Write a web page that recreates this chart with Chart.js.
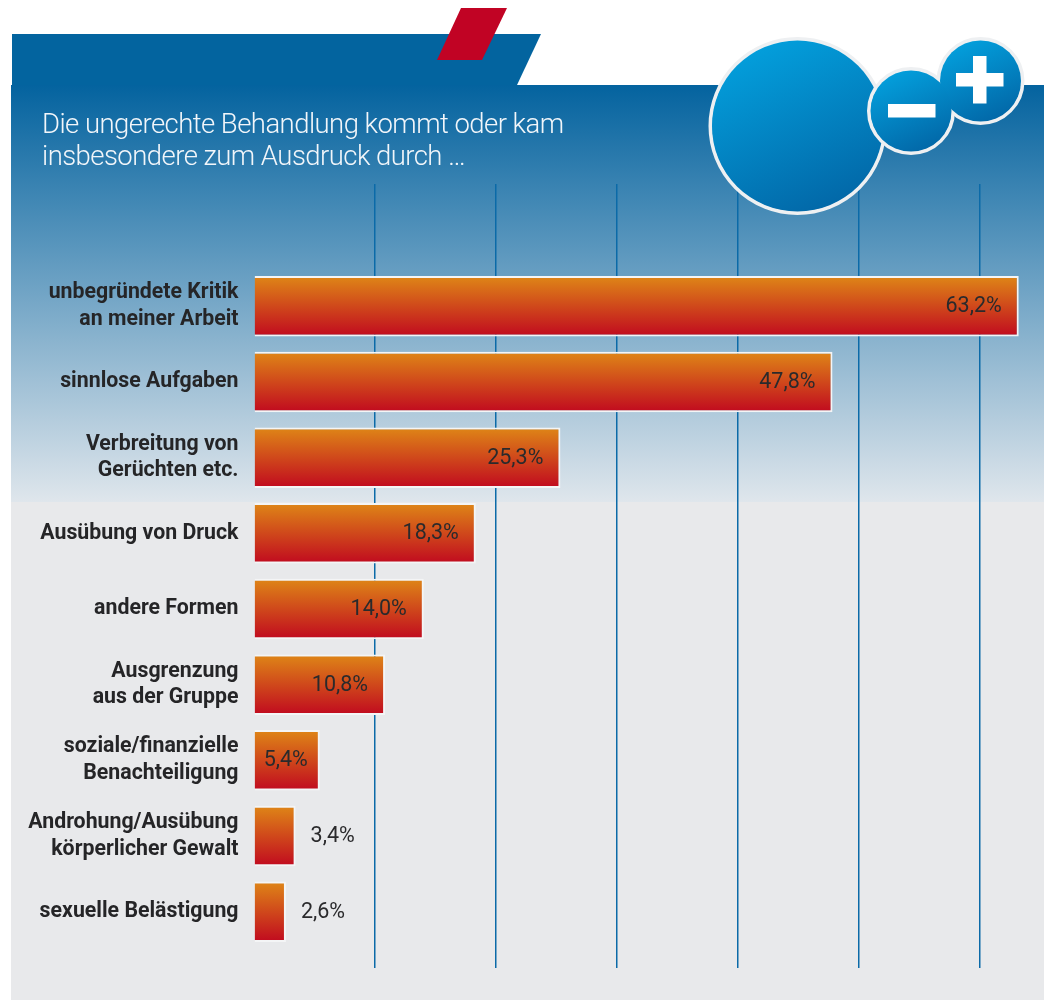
<!DOCTYPE html>
<html lang="de">
<head>
<meta charset="utf-8">
<title>Ungerechte Behandlung</title>
<script src="https://cdn.jsdelivr.net/npm/chart.js@4"></script>
<style>
  html, body { margin: 0; padding: 0; background: #fff; }
  #wrap { position: relative; width: 1044px; height: 1000px; }
</style>
</head>
<body>
<div id="wrap"><canvas id="myChart" width="1044" height="1000"></canvas></div>
<script>
// Daten
const categories = [
  ['unbegründete Kritik', 'an meiner Arbeit'],
  'sinnlose Aufgaben',
  ['Verbreitung von', 'Gerüchten etc.'],
  'Ausübung von Druck',
  'andere Formen',
  ['Ausgrenzung', 'aus der Gruppe'],
  ['soziale/finanzielle', 'Benachteiligung'],
  ['Androhung/Ausübung', 'körperlicher Gewalt'],
  'sexuelle Belästigung'
];
const values = [63.2, 47.8, 25.3, 18.3, 14.0, 10.8, 5.4, 3.4, 2.6];
const gridTicks = [10, 20, 30, 40, 50, 60];
const titleLines = ['Die ungerechte Behandlung kommt oder kam', 'insbesondere zum Ausdruck durch …'];

const ctx = document.getElementById('myChart');

function disc(c, x, y, r) {
  c.beginPath();
  c.arc(x, y, r, 0, Math.PI * 2);
}

function ring(c, x, y, r) {
  disc(c, x, y, r);
  c.lineWidth = 4;
  c.strokeStyle = '#eef0f2';
  c.stroke();
}

function fillDisc(c, x, y, r) {
  const g = c.createLinearGradient(x - r * 0.45, y - r, x + r * 0.45, y + r);
  g.addColorStop(0, '#03a0dd');
  g.addColorStop(1, '#0266a6');
  disc(c, x, y, r);
  c.fillStyle = g;
  c.fill();
}

// Hintergrund, Gitterlinien und Logo liegen unter den Balken
const backdrop = {
  id: 'backdrop',
  beforeDraw(chart) {
    const c = chart.ctx;
    c.save();
    c.fillStyle = '#e8e9eb';
    c.fillRect(11, 502, 1033, 498);
    const bg = c.createLinearGradient(0, 85, 0, 502);
    bg.addColorStop(0, '#04639f');
    bg.addColorStop(1, '#dfe6ec');
    c.fillStyle = bg;
    c.fillRect(11, 85, 1033, 417);

    c.fillStyle = '#03649f';
    c.beginPath();
    c.moveTo(12, 34); c.lineTo(541, 34); c.lineTo(517, 85); c.lineTo(12, 85);
    c.closePath();
    c.fill();

    c.fillStyle = '#c10324';
    c.beginPath();
    c.moveTo(461, 8); c.lineTo(507, 8); c.lineTo(482, 60); c.lineTo(437, 60);
    c.closePath();
    c.fill();

    const xs = chart.scales.x;
    c.fillStyle = '#0b6aa8';
    gridTicks.forEach(t => {
      c.fillRect(Math.round(xs.getPixelForValue(t)) - 1, 184, 1.5, 784);
    });

    // Logo: grosser Kreis, dann Plus und Minus ohne Trennrand dazwischen
    ring(c, 797.5, 126, 87);
    fillDisc(c, 797.5, 126, 85.5);
    ring(c, 980.5, 81, 42);
    ring(c, 911, 111, 42);
    fillDisc(c, 980.5, 81, 40.5);
    fillDisc(c, 911, 111, 40.5);
    c.fillStyle = '#fff';
    c.fillRect(888, 104, 47.5, 13.5);
    c.fillRect(956, 73, 47.5, 13.5);
    c.fillRect(973, 56, 13.5, 47.5);

    c.font = '300 27.5px Roboto';
    c.letterSpacing = '-0.55px';
    c.fillStyle = '#f2f6fa';
    c.textAlign = 'left';
    c.textBaseline = 'alphabetic';
    titleLines.forEach((line, i) => c.fillText(line, 42, 133 + i * 32));
    c.letterSpacing = '0px';
    c.restore();
  }
};

// Prozentwerte: lange Balken innen, kurze rechts daneben
const valueLabels = {
  id: 'valueLabels',
  afterDatasetsDraw(chart) {
    const c = chart.ctx;
    const meta = chart.getDatasetMeta(0);
    c.save();
    c.font = '400 21.5px Roboto';
    c.textBaseline = 'middle';
    c.fillStyle = '#2a2a2c';
    meta.data.forEach((bar, i) => {
      const txt = values[i].toFixed(1).replace('.', ',') + '%';
      const y = bar.y + 0.5;
      if (values[i] > 5) {
        c.textAlign = 'right';
        c.fillText(txt, bar.x - (values[i] < 10 ? 12 : 17), y);
      } else {
        c.textAlign = 'left';
        c.fillText(txt, bar.x + 15, y);
      }
    });
    c.restore();
  }
};

new Chart(ctx, {
  type: 'bar',
  data: {
    labels: categories,
    datasets: [{
      data: values,
      borderColor: '#f4f5f6',
      borderWidth: 2,
      barPercentage: 0.8,
      categoryPercentage: 1,
      backgroundColor(context) {
        const ys = context.chart.scales.y;
        const mid = ys ? ys.getPixelForValue(context.dataIndex) : NaN;
        if (!Number.isFinite(mid)) return '#d0451c';
        const g = context.chart.ctx.createLinearGradient(0, mid - 29, 0, mid + 29);
        g.addColorStop(0, '#de8417');
        g.addColorStop(1, '#c10c1f');
        return g;
      }
    }]
  },
  options: {
    indexAxis: 'y',
    responsive: false,
    animation: false,
    events: [],
    layout: { padding: { left: 0, right: 3.5, top: 268.5, bottom: 50.5 } },
    plugins: {
      legend: { display: false },
      tooltip: { enabled: false },
      title: { display: false }
    },
    scales: {
      x: {
        type: 'linear',
        min: 0,
        max: 65,
        display: false
      },
      y: {
        type: 'category',
        grid: { display: false },
        border: { display: false },
        afterFit(scale) { scale.width = 254.5; },
        ticks: {
          color: '#252527',
          padding: 8,
          autoSkip: false,
          font: { family: 'Roboto', size: 21.3, weight: '700', lineHeight: 1.24 }
        }
      }
    }
  },
  plugins: [backdrop, valueLabels]
});
</script>
</body>
</html>
